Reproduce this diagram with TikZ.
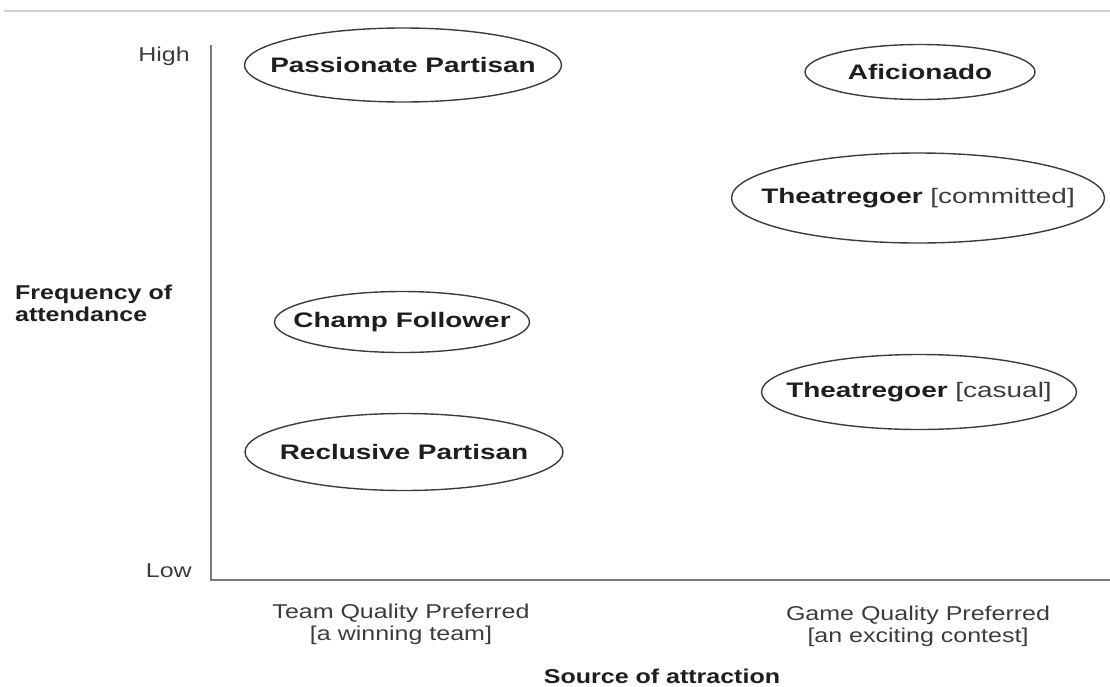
\documentclass[tikz,border=0pt]{standalone}
\usepackage{fontspec}
\setmainfont{Liberation Sans}
\newcommand\wideb[1]{\scalebox{1.33}[1]{#1}}
\newcommand\widel[1]{\scalebox{1.25}[1]{#1}}
\definecolor{axisgray}{HTML}{7A7A7A}
\definecolor{rulegray}{HTML}{D0D0D0}
\definecolor{ink}{HTML}{1E1E1E}
\definecolor{softink}{HTML}{3C3C3C}
\tikzset{
  ovaltext/.style={inner sep=0pt, font=\fontsize{21}{25}\selectfont\bfseries, text=ink},
  ovalline/.style={draw=softink, line width=1.4pt},
  axisline/.style={draw=axisgray, line width=2.2pt},
  lbl/.style={font=\fontsize{20}{22}\selectfont, text=softink, align=center, inner sep=0pt},
  blbl/.style={font=\fontsize{20}{22}\selectfont\bfseries, text=ink, align=left, inner sep=0pt}
}
\begin{document}
\begin{tikzpicture}[x=1pt,y=-1pt]
\useasboundingbox (0,0) rectangle (1110,686);
% top rule
\coordinate (ruleL) at (4,11);
\coordinate (ruleR) at (1110,11);
\draw[rulegray, line width=2.5pt] (ruleL) -- (ruleR);
% axes
\coordinate (ytop) at (211,45);
\coordinate (origin) at (211,580);
\coordinate (xend) at (1110,580);
\draw[axisline] (ytop) -- (origin) -- (xend);
% axis labels
\node[lbl, anchor=east] (high) at (190,56) {\widel{High}};
\node[lbl, anchor=east] (low) at (192,571) {\widel{Low}};
\node[blbl, anchor=west] (freq) at (15,303) {\widel{Frequency of}\\\widel{attendance}};
\node[lbl] (team) at (401,624) {\widel{Team Quality Preferred}\\{\widel{[a winning team]}}};
\node[lbl] (game) at (918,626) {\widel{Game Quality Preferred}\\{\widel{[an exciting contest]}}};
\node[blbl, align=center] (source) at (662,676) {\widel{Source of attraction}};
% ellipses
\node[ovaltext] (pp) at (403,65) {\wideb{Passionate Partisan}};
\draw[ovalline] (pp.center) ellipse [x radius=158.5, y radius=37];
\node[ovaltext] (af) at (920,72) {\wideb{Aficionado}};
\draw[ovalline] (af.center) ellipse [x radius=115, y radius=27.5];
\node[ovaltext] (tc) at (918,198) {\wideb{Theatregoer {\mdseries\color{softink}[committed]}}};
\draw[ovalline] (tc.center) ellipse [x radius=186.5, y radius=45];
\node[ovaltext] (cf) at (402,322) {\wideb{Champ Follower}};
\draw[ovalline] (cf.center) ellipse [x radius=127.5, y radius=30.5];
\node[ovaltext] (tca) at (919,392) {\wideb{Theatregoer {\mdseries\color{softink}[casual]}}};
\draw[ovalline] (tca.center) ellipse [x radius=157.5, y radius=37.5];
\node[ovaltext] (rp) at (404,452) {\wideb{Reclusive Partisan}};
\draw[ovalline] (rp.center) ellipse [x radius=159, y radius=38.5];
\end{tikzpicture}
\end{document}
